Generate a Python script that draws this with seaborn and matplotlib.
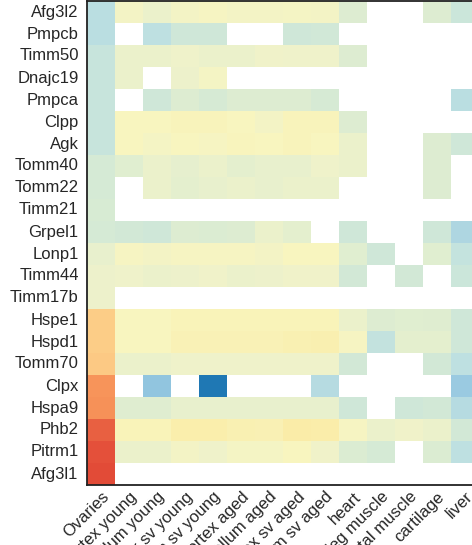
import numpy as np
import pandas as pd
import seaborn as sns
import matplotlib.pyplot as plt
from matplotlib.colors import LinearSegmentedColormap

nan = np.nan

genes = ["Afg3l2", "Pmpcb", "Timm50", "Dnajc19", "Pmpca", "Clpp", "Agk", "Tomm40",
         "Tomm22", "Timm21", "Grpel1", "Lonp1", "Timm44", "Timm17b", "Hspe1", "Hspd1",
         "Tomm70", "Clpx", "Hspa9", "Phb2", "Pitrm1", "Afg3l1"]

tissues = ["Ovaries", "cortex young", "cerebellum young", "cortex sv young",
           "cerebellum sv young", "cortex aged", "cerebellum aged", "cortex sv aged",
           "cerebellum sv aged", "heart", "leg muscle", "skeletal muscle", "cartilage", "liver"]

# log fold change per tissue, one value per gene (NaN = not detected)
ovaries = [-0.32, -0.32, -0.25, -0.25, -0.25, -0.25, -0.25, -0.17, -0.17, -0.15, -0.17,
           -0.08, -0.06, -0.06, 0.30, 0.30, 0.32, 0.55, 0.57, 0.78, 0.85, 0.87]
cortex_young = [-0.03, nan, -0.07, -0.07, nan, 0.0, 0.0, -0.11, nan, nan, -0.18,
                -0.01, -0.05, nan, 0.0, 0.0, -0.07, nan, -0.12, 0.03, -0.07, nan]
cerebellum_young = [-0.07, -0.3, -0.07, nan, -0.2, 0.0, -0.02, -0.07, -0.07, nan, -0.2,
                    -0.03, -0.07, nan, 0.0, 0.0, -0.07, -0.52, -0.12, 0.03, -0.07, nan]
cortex_sv_young = [-0.03, -0.2, -0.05, -0.06, -0.13, 0.02, 0.0, -0.09, -0.1, nan, -0.13,
                   -0.01, -0.06, nan, 0.03, 0.04, -0.05, nan, -0.08, 0.08, -0.03, nan]
cerebellum_sv_young = [-0.01, -0.2, -0.07, -0.02, -0.16, 0.02, -0.01, -0.07, -0.08, nan, -0.14,
                       -0.01, -0.04, nan, 0.03, 0.04, -0.05, -1.0, -0.08, 0.08, -0.05, nan]
cortex_aged = [-0.03, nan, -0.07, nan, -0.13, 0.0, 0.01, -0.1, -0.07, nan, -0.13,
               -0.01, -0.07, nan, 0.03, 0.04, -0.05, nan, -0.08, 0.06, -0.02, nan]
cerebellum_aged = [-0.03, nan, -0.04, nan, -0.13, -0.03, 0.0, -0.08, -0.08, nan, -0.07,
                   -0.03, -0.06, nan, 0.03, 0.04, -0.05, nan, -0.08, 0.05, -0.02, nan]
cortex_sv_aged = [-0.02, -0.2, -0.05, nan, -0.13, 0.02, 0.02, -0.08, -0.07, nan, -0.1,
                  0.0, -0.04, nan, 0.03, 0.06, -0.05, nan, -0.08, 0.1, 0.0, nan]
cerebellum_sv_aged = [-0.03, -0.19, -0.05, nan, -0.16, 0.02, 0.0, -0.05, -0.07, nan, nan,
                      0.0, -0.04, nan, 0.03, 0.07, -0.05, -0.34, -0.08, 0.09, -0.04, nan]
heart = [-0.13, nan, -0.13, nan, nan, -0.13, -0.07, -0.07, nan, nan, -0.2,
         -0.11, -0.18, nan, -0.07, -0.01, -0.18, nan, -0.2, -0.01, -0.14, nan]
leg_muscle = [nan, nan, nan, nan, nan, nan, nan, nan, nan, nan, nan,
              -0.2, nan, nan, -0.13, -0.27, nan, nan, nan, -0.07, -0.17, nan]
skeletal_muscle = [nan, nan, nan, nan, nan, nan, nan, nan, nan, nan, nan,
                   nan, -0.18, nan, -0.11, -0.1, nan, nan, -0.2, -0.04, nan, nan]
cartilage = [-0.13, nan, nan, nan, nan, nan, -0.13, -0.13, -0.13, nan, -0.2,
             -0.11, nan, nan, -0.12, -0.1, -0.18, nan, -0.18, -0.07, -0.14, nan]
liver = [-0.22, nan, nan, nan, -0.32, nan, -0.2, nan, nan, nan, -0.38,
         -0.26, -0.22, nan, -0.2, -0.2, -0.3, -0.48, -0.34, -0.18, -0.3, nan]

columns = [ovaries, cortex_young, cerebellum_young, cortex_sv_young, cerebellum_sv_young,
           cortex_aged, cerebellum_aged, cortex_sv_aged, cerebellum_sv_aged, heart,
           leg_muscle, skeletal_muscle, cartilage, liver]
df = pd.DataFrame(dict(zip(tissues, columns)), index=genes)

# blue -> pale yellow -> red, roughly matching the original figure
cmap = LinearSegmentedColormap.from_list("fc", [
    (0.0, "#1f78b4"), (0.25, "#96c8e1"), (0.35, "#bee0e1"), (0.425, "#d8ebd3"),
    (0.475, "#eff2ca"), (0.5, "#f8f5c0"), (0.55, "#faeca8"), (0.65, "#fccd87"),
    (0.775, "#f7955a"), (0.925, "#e4503a"), (1.0, "#d73027")])

sns.set_style("white")
plt.rcParams["font.family"] = ["Liberation Sans", "DejaVu Sans"]

fig = plt.figure(figsize=(4.72, 5.45), dpi=100)
ax = fig.add_axes([87 / 472, 60 / 545, 392 / 472, 484 / 545])
sns.heatmap(df, cmap=cmap, vmin=-1, vmax=1, cbar=False, ax=ax)

for s in ["left", "top", "bottom"]:
    ax.spines[s].set_visible(True)
    ax.spines[s].set_color("#222222")
    ax.spines[s].set_linewidth(1.3)

ax.set_yticklabels(genes, rotation=0, fontsize=12)
ax.set_xticklabels(tissues, rotation=45, ha="right", rotation_mode="anchor", fontsize=12)
ax.tick_params(axis="y", length=0, pad=6)
ax.tick_params(axis="x", length=0, pad=3)
ax.set_xlabel("")
ax.set_ylabel("")

fig.savefig("out.png", dpi=100)
